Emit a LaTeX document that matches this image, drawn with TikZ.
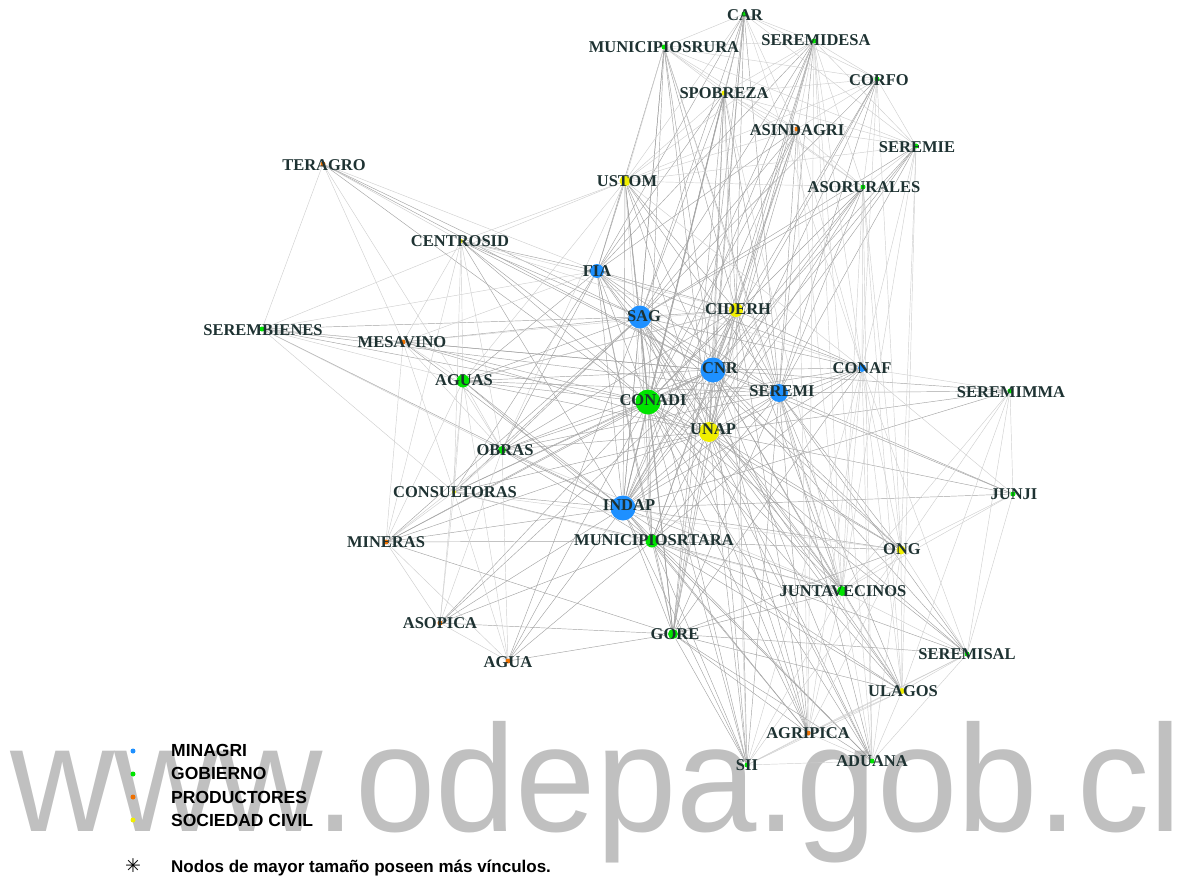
\documentclass[tikz,border=0pt]{standalone}
\usepackage{fontspec}
\usepackage{graphicx}
\setmainfont{Liberation Serif}
\newfontfamily\arialfont{Liberation Sans}
\newfontfamily\symfont{DejaVu Sans}
\usetikzlibrary{backgrounds}

\definecolor{minagri}{RGB}{30,144,255}
\definecolor{gobierno}{RGB}{0,228,0}
\definecolor{productores}{RGB}{238,112,0}
\definecolor{sociedad}{RGB}{240,238,0}
\definecolor{lblcol}{RGB}{30,50,50}
\definecolor{marca}{RGB}{192,192,192}

% actor: name, x, y, dot style, label x, label y, label
\newcommand{\actor}[7]{%
  \node[dot,#4] (#1) at (#2,#3) {};
  \node[lbl] (#1-l) at (#5,#6) {#7};}

\begin{document}
\begin{tikzpicture}[x=1pt,y=-1pt,
  dot/.style={circle,inner sep=0pt,minimum size=5pt},
  minag/.style={fill=minagri},
  gob/.style={fill=gobierno},
  prod/.style={fill=productores},
  soc/.style={fill=sociedad},
  lbl/.style={inner sep=0pt,text=lblcol,font=\fontsize{16.5}{16.5}\selectfont\bfseries},
  link/.style={draw=black!36,line width=0.45pt},
  linkl/.style={draw=black!19,line width=0.45pt},
  legtxt/.style={anchor=base west,inner sep=0pt,font=\arialfont\fontsize{17.5}{18}\selectfont\bfseries},
  marcaagua/.style={anchor=base west,inner sep=0pt,text=marca,font=\arialfont\fontsize{152}{152}\selectfont}]
  \useasboundingbox (0,0) rectangle (1186,880);

  %top
  \actor{car}{744}{14}{gob}{745}{15}{CAR}
  \actor{mrura}{664}{47}{gob}{664}{47}{MUNICIPIOSRURA}
  \actor{seremidesa}{814}{41}{gob}{816}{40}{SEREMIDESA}
  \actor{corfo}{877}{79}{gob}{879}{80}{CORFO}
  \actor{spobreza}{724}{93}{soc}{724}{93}{SPOBREZA}
  \actor{asindagri}{797}{129}{prod}{797}{130}{ASINDAGRI}
  \actor{seremie}{916}{146}{gob}{917}{147}{SEREMIE}
  \actor{ustom}{625}{181}{soc,minimum size=11pt}{627}{181}{USTOM}
  \actor{asorurales}{863}{187}{gob}{864}{187}{ASORURALES}

  %left
  \actor{teragro}{323}{164}{prod}{324}{165}{TERAGRO}
  \actor{centrosid}{461}{241}{soc,minimum size=4pt}{460}{241}{CENTROSID}
  \actor{serembienes}{262}{329}{gob}{263}{330}{SEREMBIENES}
  \actor{mesavino}{403}{342}{prod}{402}{342}{MESAVINO}
  \actor{aguas}{463}{381}{gob,minimum size=13pt}{464}{380}{AGUAS}
  \actor{obras}{502}{450}{gob,minimum size=8pt}{505}{450}{OBRAS}
  \actor{consultoras}{454}{492}{soc,minimum size=4pt}{455}{492}{CONSULTORAS}
  \actor{mineras}{386}{542}{prod}{386}{542}{MINERAS}
  \actor{asopica}{440}{623}{prod}{440}{623}{ASOPICA}
  \actor{agua}{508}{661}{prod}{508}{662}{AGUA}

  %center
  \actor{fia}{597}{271}{minag,minimum size=14pt}{597}{271}{FIA}
  \actor{sag}{640}{317}{minag,minimum size=23pt}{644}{316}{SAG}
  \actor{ciderh}{736}{310}{soc,minimum size=14pt}{738}{309}{CIDERH}
  \actor{cnr}{713}{370}{minag,minimum size=25pt}{720}{368}{CNR}
  \actor{conaf}{862}{368}{minag,minimum size=8pt}{862}{368}{CONAF}
  \actor{seremi}{779}{393}{minag,minimum size=18pt}{782}{391}{SEREMI}
  \actor{conadi}{648}{402}{gob,minimum size=25pt}{653}{400}{CONADI}
  \actor{unap}{709}{432}{soc,minimum size=20pt}{713}{429}{UNAP}
  \actor{indap}{623}{508}{minag,minimum size=25pt}{629}{505}{INDAP}
  \actor{mtara}{652}{541}{gob,minimum size=13pt}{654}{540}{MUNICIPIOSRTARA}
  \actor{gore}{673}{634}{gob,minimum size=10pt}{675}{634}{GORE}

  %right
  \actor{seremimma}{1010}{391}{gob}{1011}{392}{SEREMIMMA}
  \actor{junji}{1013}{494}{gob}{1014}{494}{JUNJI}
  \actor{ong}{901}{550}{soc,minimum size=9pt}{902}{549}{ONG}
  \actor{juntavecinos}{842}{591}{gob,minimum size=10pt}{843}{591}{JUNTAVECINOS}
  \actor{seremisal}{967}{654}{gob}{967}{654}{SEREMISAL}
  \actor{ulagos}{902}{691}{soc,minimum size=6pt}{903}{691}{ULAGOS}
  \actor{agripica}{808}{733}{prod}{808}{733}{AGRIPICA}
  \actor{sii}{747}{765}{gob}{747}{765}{SII}
  \actor{aduana}{872}{761}{gob}{872}{761}{ADUANA}

  %legend
  \node[dot,minag] (l-minagri) at (133,751) {};
  \node[dot,gob] (l-gobierno) at (133,774) {};
  \node[dot,prod] (l-productores) at (133,797) {};
  \node[dot,soc] (l-sociedad) at (133,820) {};
  \node[legtxt] (t-minagri) at (171,756) {MINAGRI};
  \node[legtxt] (t-gobierno) at (171,779) {GOBIERNO};
  \node[legtxt] (t-productores) at (171,803) {PRODUCTORES};
  \node[legtxt] (t-sociedad) at (171,826) {SOCIEDAD CIVIL};
  \node[inner sep=0pt,font=\symfont\fontsize{19}{19}\selectfont\bfseries] (asterisco) at (133,866) {✳};
  \node[legtxt,font=\arialfont\fontsize{17}{18}\selectfont\bfseries] (nota) at (171,872) {Nodos de mayor tamaño poseen más vínculos.};

  \begin{pgfonlayer}{background}
  \node[marcaagua] (web) at (10,831) {\scalebox{0.95}[1]{www.odepa.gob.cl}};

  %hubs
  \foreach \b in {car,mrura,seremidesa,corfo,spobreza,asindagri,seremie,ustom,asorurales,teragro,centrosid,fia,ciderh,serembienes,mesavino,cnr,conaf,aguas,seremi,conadi,unap,obras,consultoras,indap,mineras,mtara,ong,juntavecinos,gore,agua,ulagos,agripica,sii,aduana}
    \draw[link] (sag) -- (\b);
  \foreach \b in {car,mrura,seremidesa,corfo,spobreza,asindagri,seremie,ustom,asorurales,teragro,centrosid,fia,ciderh,serembienes,mesavino,conaf,aguas,seremi,conadi,unap,obras,consultoras,indap,mineras,mtara,ong,juntavecinos,asopica,gore,seremisal,ulagos,agripica,sii,aduana,seremimma,junji}
    \draw[link] (cnr) -- (\b);
  \foreach \b in {car,mrura,seremidesa,spobreza,asindagri,ustom,asorurales,teragro,centrosid,fia,ciderh,serembienes,mesavino,conaf,aguas,seremi,unap,obras,consultoras,indap,mineras,mtara,ong,juntavecinos,asopica,gore,agua,ulagos,agripica,sii,aduana,seremisal}
    \draw[link] (conadi) -- (\b);
  \foreach \b in {car,mrura,seremidesa,corfo,spobreza,asindagri,seremie,ustom,asorurales,centrosid,fia,ciderh,serembienes,mesavino,conaf,aguas,seremi,unap,obras,consultoras,mineras,mtara,ong,juntavecinos,asopica,gore,agua,ulagos,agripica,sii,aduana,junji,seremimma}
    \draw[link] (indap) -- (\b);
  \foreach \b in {car,mrura,seremidesa,corfo,spobreza,asindagri,seremie,ustom,asorurales,centrosid,fia,ciderh,mesavino,conaf,aguas,seremi,obras,consultoras,mineras,mtara,ong,juntavecinos,gore,seremisal,ulagos,agripica,sii,aduana,junji,seremimma}
    \draw[link] (unap) -- (\b);
  \foreach \b in {car,mrura,seremidesa,corfo,spobreza,asindagri,seremie,ustom,asorurales,fia,ciderh,serembienes,conaf,aguas,seremimma,obras,mtara,ong,juntavecinos,gore,seremisal,ulagos,agripica,sii,aduana,junji}
    \draw[link] (seremi) -- (\b);
  \foreach \b in {car,mrura,seremidesa,spobreza,asindagri,ustom,fia,conaf,aguas,obras,mtara,gore,juntavecinos,sii,agripica}
    \draw[link] (ciderh) -- (\b);
  \foreach \b in {car,mrura,spobreza,ustom,centrosid,asindagri,seremidesa,conaf,aguas,obras,mtara,gore,juntavecinos,consultoras}
    \draw[link] (fia) -- (\b);
  \foreach \b in {aguas,obras,consultoras,mineras,asopica,agua,gore,juntavecinos,ong,sii,agripica,aduana,ulagos,seremisal,conaf}
    \draw[link] (mtara) -- (\b);
  \foreach \b in {mineras,asopica,agua,juntavecinos,ong,seremisal,ulagos,agripica,sii,aduana,conaf,car,spobreza,ustom}
    \draw[link] (gore) -- (\b);

  %top group
  \foreach \b in {mrura,seremidesa,corfo,spobreza,asindagri,ustom,conaf,seremie}
    \draw[linkl] (car) -- (\b);
  \foreach \b in {seremidesa,corfo,spobreza,asindagri,seremie,asorurales,ustom,juntavecinos}
    \draw[linkl] (mrura) -- (\b);
  \foreach \b in {corfo,spobreza,asindagri,seremie,asorurales,ustom,conaf,agripica,aduana,juntavecinos}
    \draw[linkl] (seremidesa) -- (\b);
  \foreach \b in {spobreza,asindagri,seremie,asorurales,conaf,ustom,ong}
    \draw[linkl] (corfo) -- (\b);
  \foreach \b in {asindagri,seremie,asorurales,ustom,juntavecinos,sii}
    \draw[linkl] (spobreza) -- (\b);
  \foreach \b in {seremie,asorurales,ustom,conaf,juntavecinos,agripica}
    \draw[linkl] (asindagri) -- (\b);
  \foreach \b in {asorurales,ustom,conaf,ong,juntavecinos,ulagos}
    \draw[linkl] (seremie) -- (\b);
  \foreach \b in {ustom,conaf,ong,juntavecinos,ulagos,aduana}
    \draw[linkl] (asorurales) -- (\b);
  \foreach \b in {centrosid,serembienes,aguas,obras,mtara,conaf}
    \draw[linkl] (ustom) -- (\b);

  %left group
  \foreach \b in {serembienes,centrosid,fia,obras,mesavino}
    \draw[linkl] (teragro) -- (\b);
  \foreach \b in {aguas,obras,consultoras,mesavino,mineras,ciderh,conaf}
    \draw[linkl] (centrosid) -- (\b);
  \foreach \b in {mesavino,aguas,obras,consultoras,fia}
    \draw[linkl] (serembienes) -- (\b);
  \foreach \b in {aguas,obras,consultoras,mineras,fia,ciderh}
    \draw[linkl] (mesavino) -- (\b);
  \foreach \b in {obras,consultoras,mineras,agua,asopica,ciderh}
    \draw[linkl] (aguas) -- (\b);
  \foreach \b in {consultoras,mineras,asopica,agua,juntavecinos}
    \draw[linkl] (obras) -- (\b);
  \foreach \b in {mineras,asopica,agua,juntavecinos,ong}
    \draw[linkl] (consultoras) -- (\b);
  \foreach \b in {asopica,agua}
    \draw[linkl] (mineras) -- (\b);
  \draw[linkl] (asopica) -- (agua);

  %right group
  \foreach \b in {seremimma,junji,ong,juntavecinos,seremisal,ulagos,aduana,agripica,sii}
    \draw[linkl] (conaf) -- (\b);
  \foreach \b in {junji,ong,seremisal,juntavecinos,ulagos}
    \draw[linkl] (seremimma) -- (\b);
  \foreach \b in {ong,seremisal,juntavecinos}
    \draw[linkl] (junji) -- (\b);
  \foreach \b in {juntavecinos,seremisal,ulagos,aduana,agripica,sii}
    \draw[linkl] (ong) -- (\b);
  \foreach \b in {seremisal,ulagos,agripica,sii,aduana}
    \draw[linkl] (juntavecinos) -- (\b);
  \foreach \b in {ulagos,agripica,sii,aduana}
    \draw[linkl] (seremisal) -- (\b);
  \foreach \b in {agripica,aduana,sii}
    \draw[linkl] (ulagos) -- (\b);
  \foreach \b in {sii,aduana}
    \draw[linkl] (agripica) -- (\b);
  \draw[linkl] (sii) -- (aduana);
  \end{pgfonlayer}
\end{tikzpicture}
\end{document}
